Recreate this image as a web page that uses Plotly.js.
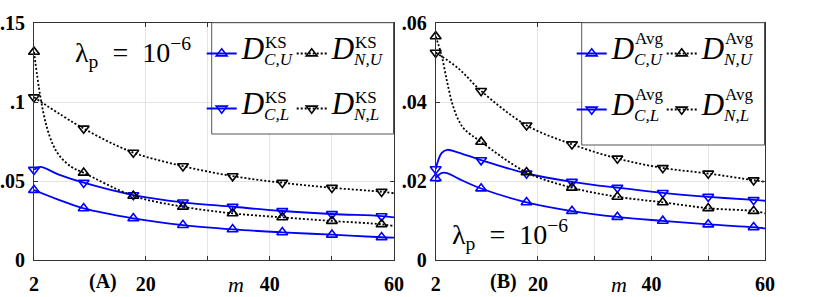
<!DOCTYPE html>
<html>
<head>
<meta charset="utf-8">
<script src="https://cdn.plot.ly/plotly-3.0.1.min.js"></script>
<style>html,body{margin:0;padding:0;background:#fff;}#chart{width:830px;height:297px;}</style>
</head>
<body>
<div id="chart"></div>
<script>
// ---------- data ----------
const markerM = [2, 10, 18, 26, 34, 42, 50, 58];

// Panel (A): KS distance
const mKS_CU = [2, 6, 10, 18, 26, 34, 42, 50, 58, 60];
const yKS_CU = [0.0443, 0.0381, 0.0327, 0.0264, 0.0221, 0.0194, 0.0175, 0.0160, 0.0144, 0.0141];
const mKS_CL = [2, 3, 6, 10, 18, 26, 34, 42, 50, 58, 60];
const yKS_CL = [0.0571, 0.0590, 0.0540, 0.0489, 0.0411, 0.0365, 0.0337, 0.0310, 0.0291, 0.0278, 0.0270];
const mKS_NU = [2, 3, 4, 5, 6, 8, 10, 18, 26, 34, 42, 50, 58, 60];
const yKS_NU = [0.1317, 0.1040, 0.0850, 0.0735, 0.0665, 0.0590, 0.0552, 0.0406, 0.0337, 0.0295, 0.0270, 0.0247, 0.0226, 0.0215];
const mKS_NL = [2, 10, 18, 26, 34, 42, 50, 58, 60];
const yKS_NL = [0.1030, 0.0832, 0.0680, 0.0594, 0.0531, 0.0489, 0.0457, 0.0432, 0.0422];

// Panel (B): average distance
const mAvg_CU = [2, 3, 4, 6, 10, 18, 26, 34, 42, 50, 58, 60];
const yAvg_CU = [0.0207, 0.0220, 0.0220, 0.0206, 0.0181, 0.0146, 0.0124, 0.0109, 0.0099, 0.0090, 0.0083, 0.0080];
const mAvg_CL = [2, 3, 4, 6, 10, 18, 26, 34, 42, 50, 58, 60];
const yAvg_CL = [0.0230, 0.0270, 0.0279, 0.0272, 0.0253, 0.0219, 0.0198, 0.0183, 0.0170, 0.0160, 0.0152, 0.0150];
const mAvg_NU = [2, 3, 4, 5, 6, 7, 10, 18, 26, 34, 42, 50, 58, 60];
const yAvg_NU = [0.0566, 0.0520, 0.0452, 0.0392, 0.0355, 0.0332, 0.0299, 0.0222, 0.0183, 0.0160, 0.0146, 0.0131, 0.0124, 0.0118];
const mAvg_NL = [2, 6, 10, 18, 26, 34, 42, 50, 58, 60];
const yAvg_NL = [0.0525, 0.0485, 0.0428, 0.0341, 0.0293, 0.0257, 0.0233, 0.0219, 0.0202, 0.0198];

const xTickVals = [2, 20, 40, 60];
const xTickText = ['2', '20', '40', '60'];
const xMinorVals = [30, 50];
const yTickValsA = [0, 0.05, 0.1, 0.15];
const yTickTextA = ['0', '.05', '.1', '.15'];
const yTickValsB = [0, 0.02, 0.04, 0.06];
const yTickTextB = ['0', '.02', '.04', '.06'];

const supA = 'KS', supB = 'Avg';

// ---------- styling ----------
const BLUE = '#0000ff', BLACK = '#000000';
const SERIF = 'Liberation Serif';
const W = 830, H = 297, ML = 34, MR = 65, MT = 23, MB = 37;
const PW = W - ML - MR, PH = H - MT - MB;
const px2x = p => (p - ML) / PW;
const py2y = p => (H - MB - p) / PH;

function legName(sub) {
  return '<span style="font-size:31px"><i>D</i><sub><span style="font-size:17px"><i>' + sub + '</i></span></sub></span>';
}

function series(m, y, color, symbol, dashed, xa, ya, legend, sub) {
  return {
    type: 'scatter', mode: 'lines+markers', x: m, y: y,
    xaxis: xa, yaxis: ya, legend: legend, legendgroup: legend + sub,
    name: legName(sub), cliponaxis: false,
    line: {color: color, width: 1.8, shape: 'spline', smoothing: 1, dash: dashed ? '2px,2px' : 'solid'},
    marker: {symbol: symbol, size: 9.5,
             color: m.map(v => markerM.includes(v) ? color : 'rgba(0,0,0,0)'),
             line: {width: 1.6}}
  };
}

const data = [
  series(mKS_CU, yKS_CU, BLUE, 'triangle-up-open', false, 'x', 'y', 'legend', 'C,U'),
  series(mKS_CL, yKS_CL, BLUE, 'triangle-down-open', false, 'x', 'y', 'legend', 'C,L'),
  series(mKS_NU, yKS_NU, BLACK, 'triangle-up-open', true, 'x', 'y', 'legend2', 'N,U'),
  series(mKS_NL, yKS_NL, BLACK, 'triangle-down-open', true, 'x', 'y', 'legend2', 'N,L'),
  series(mAvg_CU, yAvg_CU, BLUE, 'triangle-up-open', false, 'x2', 'y2', 'legend3', 'C,U'),
  series(mAvg_CL, yAvg_CL, BLUE, 'triangle-down-open', false, 'x2', 'y2', 'legend3', 'C,L'),
  series(mAvg_NU, yAvg_NU, BLACK, 'triangle-up-open', true, 'x2', 'y2', 'legend4', 'N,U'),
  series(mAvg_NL, yAvg_NL, BLACK, 'triangle-down-open', true, 'x2', 'y2', 'legend4', 'N,L')
];

const tickFont = {family: SERIF, size: 20, color: '#000', weight: 'bold'};
function xAxis(domain, anchor) {
  return {domain: domain, anchor: anchor, range: [2, 60], tickmode: 'array',
    tickvals: xTickVals, ticktext: xTickText, ticks: 'inside', ticklen: 4, tickcolor: '#333',
    minor: {tickmode: 'array', tickvals: xMinorVals, ticks: 'inside', ticklen: 4, tickcolor: '#333',
            showgrid: true, gridcolor: '#e3e3e3', gridwidth: 1},
    showline: true, linecolor: '#333', linewidth: 1, mirror: 'ticks',
    showgrid: true, gridcolor: '#e3e3e3', gridwidth: 1, zeroline: false,
    tickfont: tickFont, ticklabelstandoff: 6, fixedrange: true};
}
function yAxis(range, vals, text, anchor) {
  return {domain: [0, 1], anchor: anchor, range: range, tickmode: 'array',
    tickvals: vals, ticktext: text, ticks: 'inside', ticklen: 4, tickcolor: '#333',
    showline: true, linecolor: '#333', linewidth: 1, mirror: 'ticks',
    showgrid: true, gridcolor: '#e3e3e3', gridwidth: 1, zeroline: false,
    tickfont: tickFont, ticklabelstandoff: 4, fixedrange: true};
}

const legFont = {family: SERIF, size: 14, color: '#000'};
function legendAt(leftPx, topPx, gap) {
  return {x: px2x(leftPx), y: py2y(topPx), xref: 'paper', yref: 'paper',
    xanchor: 'left', yanchor: 'top', orientation: 'v', bgcolor: 'rgba(0,0,0,0)',
    borderwidth: 0, font: legFont, traceorder: 'grouped', tracegroupgap: gap, itemwidth: 30};
}
const legLeft = [201.7, 291.7, 571.7, 661.7];
const rowA = [53.5, 108.5], rowB = [53.5, 109.5];

const annotations = [];
function ann(text, xPx, yPx, size, opts) {
  annotations.push(Object.assign({text: text, x: px2x(xPx), y: py2y(yPx), xref: 'paper', yref: 'paper',
    showarrow: false, xanchor: 'center', yanchor: 'middle',
    font: {family: SERIF, size: size, color: '#000'}}, opts || {}));
}
const DW = 21;
[[0, rowA, supA, -10.6], [1, rowA, supA, -10.6], [2, rowB, supB, -15.5], [3, rowB, supB, -15.5]].forEach(([i, rows, s, dy]) => {
  rows.forEach(r => ann(s, legLeft[i] + 40 + DW, r + dy, 17, {xanchor: 'left'}));
});
ann('<b>(A)</b>', 103, 281, 20);
ann('<b>(B)</b>', 503, 281, 20);
ann('<i>m</i>', 236, 284.5, 22);
ann('<i>m</i>', 619, 284.5, 22);
ann('λ<sub>p</sub>&nbsp; =&nbsp; 10<sup>−6</sup>', 73, 52.3, 28, {xanchor: 'left'});
ann('λ<sub>p</sub>&nbsp; =&nbsp; 10<sup>−6</sup>', 450, 234, 28, {xanchor: 'left'});

const shapes = [
  {type: 'rect', xref: 'paper', yref: 'paper', x0: px2x(211.7), x1: px2x(393.5), y0: py2y(134), y1: py2y(22.7),
   line: {color: '#555', width: 1}, fillcolor: '#fff', layer: 'above'},
  {type: 'rect', xref: 'paper', yref: 'paper', x0: px2x(581.7), x1: px2x(764.5), y0: py2y(145), y1: py2y(22.7),
   line: {color: '#555', width: 1}, fillcolor: '#fff', layer: 'above'}
];

const layout = {
  width: W, height: H, margin: {l: ML, r: MR, t: MT, b: MB},
  paper_bgcolor: '#fff', plot_bgcolor: '#fff', showlegend: true,
  font: {family: SERIF, color: '#000'},
  xaxis: xAxis([0, px2x(394)], 'y'),
  yaxis: yAxis([0, 0.15], yTickValsA, yTickTextA, 'x'),
  xaxis2: xAxis([px2x(435.7), 1], 'y2'),
  yaxis2: yAxis([0, 0.06], yTickValsB, yTickTextB, 'x2'),
  legend: legendAt(legLeft[0], rowA[0] - 15.6, rowA[1] - rowA[0] - 21.2),
  legend2: legendAt(legLeft[1], rowA[0] - 15.6, rowA[1] - rowA[0] - 21.2),
  legend3: legendAt(legLeft[2], rowB[0] - 15.6, rowB[1] - rowB[0] - 21.2),
  legend4: legendAt(legLeft[3], rowB[0] - 15.6, rowB[1] - rowB[0] - 21.2),
  annotations: annotations,
  shapes: shapes
};

Plotly.newPlot('chart', data, layout, {displayModeBar: false, staticPlot: true});
</script>
</body>
</html>
